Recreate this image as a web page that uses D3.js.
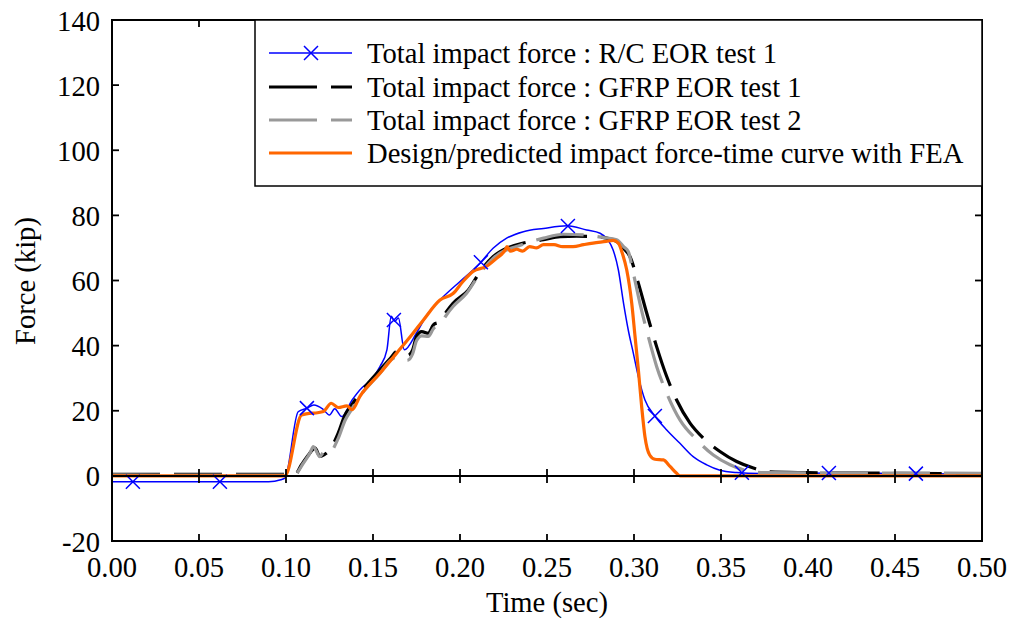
<!DOCTYPE html>
<html>
<head>
<meta charset="utf-8">
<script src="https://cdn.jsdelivr.net/npm/d3@7"></script>
</head>
<body style="margin:0">
<svg id="chart" width="1011" height="622"></svg>
<script>
// ---- Data ----
const xTicks = [0.00, 0.05, 0.10, 0.15, 0.20, 0.25, 0.30, 0.35, 0.40, 0.45, 0.50];
const yTicks = [-20, 0, 20, 40, 60, 80, 100, 120, 140];

const seriesNames = [
  "Total impact force : R/C EOR test 1",
  "Total impact force : GFRP EOR test 1",
  "Total impact force : GFRP EOR test 2",
  "Design/predicted impact force-time curve with FEA"
];

// R/C EOR test 1 (blue)
const rcT = [0, 0.09, 0.097, 0.0995, 0.107, 0.112, 0.116, 0.121, 0.125, 0.128, 0.132, 0.138, 0.1435, 0.148, 0.154, 0.158, 0.1605, 0.1625, 0.1646, 0.168, 0.175, 0.181, 0.1885, 0.2, 0.2115, 0.219, 0.2268, 0.2364, 0.248, 0.2617, 0.2728, 0.2805, 0.285, 0.288, 0.291, 0.294, 0.2967, 0.2996, 0.3025, 0.3063, 0.312, 0.3188, 0.3264, 0.334, 0.3418, 0.349, 0.359, 0.372, 0.42, 0.5];
const rcF = [-1.8, -1.8, -1.2, -0.6, 19.7, 20.8, 21.8, 20.6, 18.7, 20.6, 18.2, 23.3, 27, 29, 33.6, 38.7, 49, 47.5, 48.5, 38.7, 43.9, 49.4, 54, 59.7, 65.3, 69.9, 73, 75, 76, 76.8, 75.5, 74.5, 72.5, 69.4, 63.3, 53, 44.8, 37.7, 30.5, 23.3, 18.4, 14.1, 10, 5.9, 3.4, 1.8, 1.0, 0.7, 0.9, 0.5];
const rcMarkerT = [0.012, 0.062, 0.112, 0.162, 0.212, 0.262, 0.312, 0.362, 0.412, 0.462];

// GFRP EOR test 1 (black dashed)
const g1T = [0, 0.1, 0.105, 0.109, 0.113, 0.1167, 0.1195, 0.122, 0.1249, 0.130, 0.1339, 0.1378, 0.1425, 0.148, 0.154, 0.16, 0.1636, 0.1675, 0.170, 0.1728, 0.175, 0.178, 0.1818, 0.1847, 0.1885, 0.1923, 0.196, 0.2048, 0.2115, 0.219, 0.2268, 0.2364, 0.248, 0.2575, 0.267, 0.2766, 0.2843, 0.29, 0.2939, 0.2977, 0.3025, 0.3073, 0.313, 0.3188, 0.3245, 0.3322, 0.3398, 0.3494, 0.359, 0.3686, 0.378, 0.40, 0.45, 0.5];
const g1F = [0.5, 0.5, 0.3, 3.5, 6.5, 8.5, 6.0, 6.5, 7.8, 13.1, 18.7, 21.8, 25.4, 29, 32.6, 36.1, 38.2, 37.5, 37, 38.7, 42.8, 44.3, 43.8, 46.4, 47.4, 50.5, 53, 57.1, 62.7, 67.3, 69.9, 71.5, 72.5, 73.5, 73.6, 73.5, 73, 72, 69.9, 67.3, 59.2, 50, 39.7, 30.5, 23.3, 16.2, 11.6, 7.5, 4.4, 2.4, 1.2, 1.0, 0.8, 0.6];

// GFRP EOR test 2 (grey dashed)
const g2T = [0, 0.104, 0.1055, 0.11, 0.1138, 0.1157, 0.1195, 0.122, 0.1249, 0.130, 0.1339, 0.1378, 0.1425, 0.148, 0.154, 0.16, 0.1636, 0.1675, 0.170, 0.1728, 0.175, 0.178, 0.1818, 0.1847, 0.1885, 0.1923, 0.196, 0.2038, 0.2115, 0.219, 0.2355, 0.248, 0.2594, 0.2709, 0.2824, 0.29, 0.294, 0.2967, 0.2996, 0.3034, 0.3082, 0.313, 0.3188, 0.3264, 0.336, 0.3456, 0.3552, 0.3648, 0.375, 0.42, 0.5];
const g2F = [0.3, 0.2, 0.5, 3.9, 7.0, 9.0, 5.9, 7.5, 7.2, 11.5, 17, 20.5, 24.5, 28, 31.5, 35.5, 36.5, 35.4, 35.5, 37.5, 41.5, 43, 42.8, 45.2, 46.5, 49.5, 52, 56.1, 62.2, 66.8, 71, 73, 74.2, 74, 73.2, 72.5, 70.4, 68.9, 62.3, 53, 42.8, 33.6, 25.4, 17.2, 11.1, 6.4, 3.4, 1.6, 1.0, 0.9, 0.8];

// FEA design curve (orange)
const feT = [0, 0.0994, 0.109, 0.1215, 0.126, 0.13, 0.135, 0.138, 0.1425, 0.154, 0.1636, 0.173, 0.179, 0.1885, 0.196, 0.2017, 0.2075, 0.215, 0.221, 0.226, 0.227, 0.229, 0.2326, 0.236, 0.24, 0.244, 0.248, 0.254, 0.259, 0.265, 0.271, 0.2765, 0.284, 0.288, 0.291, 0.2935, 0.2958, 0.2987, 0.3006, 0.3025, 0.3044, 0.3063, 0.309, 0.312, 0.3169, 0.3207, 0.3245, 0.3264, 0.5];
const feF = [0, 0, 18.7, 19.8, 22.3, 21, 21.5, 20.3, 24.4, 31.5, 37.7, 43.8, 47.9, 54, 56, 59.7, 62.8, 64.3, 66.8, 69.4, 70.4, 69, 69.6, 69, 70.4, 70, 71, 71, 70.4, 70.4, 71, 71.5, 72, 72.3, 71.5, 68, 63.3, 53, 42.8, 32.6, 21.3, 12, 6.4, 5.1, 4.9, 2.9, 0.8, 0, 0];

// ---- Layout ----
const svg = d3.select("#chart").style("font-family", '"Liberation Serif"');
const L = 112, R = 982, T = 20, B = 541;
const x = d3.scaleLinear().domain([0, 0.5]).range([L, R]);
const y = d3.scaleLinear().domain([-20, 140]).range([B, T]);
const FONT = 28.6;

const zip = (ts, fs) => ts.map((t, i) => [t, fs[i]]);
const line = d3.line().x(d => x(d[0])).y(d => y(d[1])).curve(d3.curveMonotoneX);

svg.append("clipPath").attr("id", "clip")
  .append("rect").attr("x", L).attr("y", T).attr("width", R - L).attr("height", B - T);

const plot = svg.append("g").attr("clip-path", "url(#clip)");

// zero line
svg.append("line").attr("x1", L).attr("x2", R).attr("y1", y(0)).attr("y2", y(0))
  .attr("stroke", "#000").attr("stroke-width", 2);

// Series
const styles = [
  { color: "#0000ff", width: 1.5, dash: null },
  { color: "#000000", width: 3.2, dash: "48,14" },
  { color: "#999999", width: 3.2, dash: "48,14" },
  { color: "#ff6600", width: 3.2, dash: null }
];
const data = [zip(rcT, rcF), zip(g1T, g1F), zip(g2T, g2F), zip(feT, feF)];

data.forEach((d, i) => {
  const p = plot.append("path").datum(d).attr("d", line)
    .attr("fill", "none").attr("stroke", styles[i].color)
    .attr("stroke-width", styles[i].width).attr("stroke-linejoin", "round");
  if (styles[i].dash) p.attr("stroke-dasharray", styles[i].dash);
});

// blue markers placed on the R/C line
const interp = (ts, fs, t) => {
  const j = Math.max(1, d3.bisectLeft(ts, t));
  const a = (t - ts[j - 1]) / (ts[j] - ts[j - 1]);
  return fs[j - 1] + a * (fs[j] - fs[j - 1]);
};
const cross = (g, cx, cy, s, color) => {
  g.append("path").attr("d", `M${cx - s},${cy - s}L${cx + s},${cy + s}M${cx - s},${cy + s}L${cx + s},${cy - s}`)
    .attr("stroke", color).attr("stroke-width", 1.5).attr("fill", "none");
};
rcMarkerT.forEach(t => cross(plot, x(t), y(interp(rcT, rcF, t)), 7, "#0000ff"));

// Frame
svg.append("rect").attr("x", L).attr("y", T).attr("width", R - L).attr("height", B - T)
  .attr("fill", "none").attr("stroke", "#000").attr("stroke-width", 2);

// Ticks
const tk = 7;
const ticksG = svg.append("g").attr("stroke", "#000").attr("stroke-width", 1.8);
xTicks.forEach(v => {
  const px = x(v);
  ticksG.append("line").attr("x1", px).attr("x2", px).attr("y1", B).attr("y2", B - tk);
  ticksG.append("line").attr("x1", px).attr("x2", px).attr("y1", T).attr("y2", T + tk);
  ticksG.append("line").attr("x1", px).attr("x2", px).attr("y1", y(0) - tk).attr("y2", y(0) + tk);
});
yTicks.forEach(v => {
  const py = y(v);
  ticksG.append("line").attr("x1", L).attr("x2", L + tk).attr("y1", py).attr("y2", py);
  ticksG.append("line").attr("x1", R).attr("x2", R - tk).attr("y1", py).attr("y2", py);
});

const txt = (g) => g.append("text").style("font-family", '"Liberation Serif"').attr("font-size", FONT);

// Tick labels
xTicks.forEach(v => txt(svg).attr("x", x(v)).attr("y", 577).attr("text-anchor", "middle").text(v.toFixed(2)));
yTicks.forEach(v => txt(svg).attr("x", 100).attr("y", y(v) + 10.5).attr("text-anchor", "end").text(v));

// Axis titles
txt(svg).attr("x", 547).attr("y", 612).attr("text-anchor", "middle").text("Time (sec)");
txt(svg).attr("transform", "translate(35,281) rotate(-90)").attr("text-anchor", "middle").text("Force (kip)");

// Legend
const lg = svg.append("g");
lg.append("rect").attr("x", 255).attr("y", T).attr("width", R - 255).attr("height", 166)
  .attr("fill", "#fff").attr("stroke", "#000").attr("stroke-width", 1.5);
const rowY = [53, 87, 120, 153];
seriesNames.forEach((name, i) => {
  const ly = rowY[i];
  const ln = lg.append("line").attr("x1", 269).attr("x2", 352).attr("y1", ly).attr("y2", ly)
    .attr("stroke", styles[i].color).attr("stroke-width", styles[i].width);
  if (styles[i].dash) ln.attr("stroke-dasharray", styles[i].dash);
  if (i === 0) cross(lg, 311, ly, 7, "#0000ff");
  txt(lg).attr("x", 367).attr("y", ly + 10).text(name);
});
</script>
</body>
</html>
